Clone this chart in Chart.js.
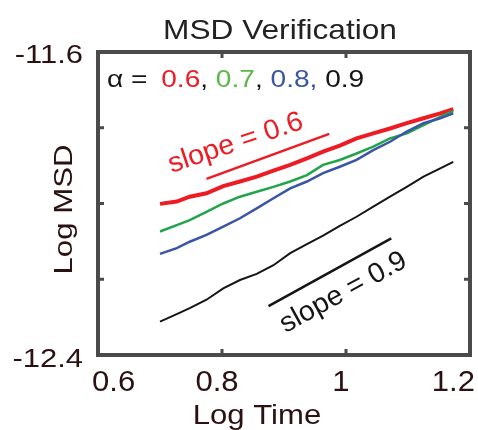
<!DOCTYPE html>
<html>
<head>
<meta charset="utf-8">
<script src="https://cdn.jsdelivr.net/npm/chart.js@4"></script>
<style>
  body { margin: 0; background: #fff; }
  canvas { display: block; }
</style>
</head>
<body>
<canvas id="msdChart" width="478" height="430"></canvas>
<script>
// values
const logTime = [0.70, 0.727, 0.748, 0.775, 0.802, 0.829, 0.856, 0.883, 0.910, 0.937, 0.963, 0.990, 1.017, 1.044, 1.071, 1.098, 1.125, 1.152, 1.173];
const msdAlpha06 = [-12.001, -11.995, -11.982, -11.973, -11.954, -11.942, -11.929, -11.913, -11.898, -11.881, -11.863, -11.847, -11.828, -11.815, -11.802, -11.788, -11.775, -11.762, -11.751];
const msdAlpha07 = [-12.074, -12.057, -12.044, -12.022, -12.000, -11.982, -11.969, -11.956, -11.942, -11.925, -11.898, -11.885, -11.868, -11.850, -11.828, -11.815, -11.793, -11.771, -11.756];
const msdAlpha08 = [-12.133, -12.118, -12.101, -12.083, -12.061, -12.039, -12.013, -11.986, -11.960, -11.942, -11.920, -11.903, -11.885, -11.859, -11.837, -11.810, -11.788, -11.775, -11.762];
const msdAlpha09 = [-12.312, -12.292, -12.276, -12.254, -12.224, -12.202, -12.186, -12.163, -12.131, -12.107, -12.085, -12.059, -12.035, -12.008, -11.982, -11.956, -11.929, -11.907, -11.890];

const slope06X = [0.775, 0.973];
const slope06Y = [-11.935, -11.816];
const slope09X = [0.875, 1.073];
const slope09Y = [-12.271, -12.092];

const xTicks = [0.6, 0.8, 1.0, 1.2];
const xTickLabels = ['0.6', '0.8', '1', '1.2'];
const yTicks = [-11.6, -11.8, -12.0, -12.2, -12.4];
const yTickLabels = ['-11.6', '', '', '', '-12.4'];

const RED = '#ed1c24', GREEN = '#22a44a', BLUE = '#3a55a6', BLACK = '#151515';
const LABEL = '#2b1111';
const FONT = '"Liberation Sans", Arial, sans-serif';

function pts(xs, ys) {
    return xs.map((x, i) => ({ x: x, y: ys[i] }));
}

// text with a horizontal stretch (the figure's lettering is wide)
function sText(ctx, str, x, y, o) {
    ctx.save();
    ctx.translate(x, y);
    if (o.rot) ctx.rotate(o.rot);
    ctx.scale(o.sx || 1, 1);
    ctx.font = o.font;
    ctx.fillStyle = o.color;
    ctx.textAlign = o.align || 'left';
    ctx.textBaseline = o.base || 'alphabetic';
    ctx.fillText(str, 0, 0);
    ctx.restore();
}

const frame = {
    id: 'frame',
    beforeDraw(chart) {
        const ctx = chart.ctx;
        ctx.save();
        ctx.fillStyle = '#fff';
        ctx.fillRect(0, 0, chart.width, chart.height);
        ctx.restore();
    },
    afterDraw(chart) {
        const ctx = chart.ctx;
        const a = chart.chartArea;
        const xs = chart.scales.x, ys = chart.scales.y;

        // box + inward ticks
        ctx.save();
        ctx.strokeStyle = '#4b4b4b';
        ctx.lineWidth = 4;
        ctx.strokeRect(a.left, a.top, a.right - a.left, a.bottom - a.top);
        ctx.lineWidth = 3;
        ctx.beginPath();
        xTicks.forEach(v => {
            const px = xs.getPixelForValue(v);
            ctx.moveTo(px, a.top); ctx.lineTo(px, a.top + 6);
            ctx.moveTo(px, a.bottom); ctx.lineTo(px, a.bottom - 6);
        });
        yTicks.forEach(v => {
            const py = ys.getPixelForValue(v);
            ctx.moveTo(a.left, py); ctx.lineTo(a.left + 6, py);
            ctx.moveTo(a.right, py); ctx.lineTo(a.right - 6, py);
        });
        ctx.stroke();
        ctx.restore();

        // title
        sText(ctx, 'MSD Verification', (a.left + a.right) / 2 - 4, 39,
            { font: '28px ' + FONT, color: '#222', sx: 1.13, align: 'center' });

        // y tick labels
        yTicks.forEach((v, i) => {
            if (!yTickLabels[i]) return;
            const py = ys.getPixelForValue(v);
            sText(ctx, yTickLabels[i], a.left - 15, py + (i === 0 ? 4 : 5),
                { font: '26px ' + FONT, color: LABEL, sx: 1.19, align: 'right', base: 'middle' });
        });

        // x tick labels
        xTicks.forEach((v, i) => {
            const px = xs.getPixelForValue(v);
            let align = 'center', dx = -5;
            if (i === 0) { align = 'left'; dx = -6; }
            if (i === xTicks.length - 1) { align = 'right'; dx = 5; }
            sText(ctx, xTickLabels[i], px + dx, a.bottom + 36,
                { font: '29px ' + FONT, color: LABEL, sx: 1.07, align: align });
        });

        // axis titles
        sText(ctx, 'Log Time', (a.left + a.right) / 2 - 27, a.bottom + 69,
            { font: '28px ' + FONT, color: LABEL, sx: 1.11, align: 'center' });
        sText(ctx, 'Log MSD', 72, (a.top + a.bottom) / 2 + 6,
            { font: '26px ' + FONT, color: LABEL, sx: 1.2, align: 'center', rot: -Math.PI / 2 });

        // alpha legend
        const segs = [['\u03b1 = ', BLACK], ['0.6', RED], [', ', BLACK], ['0.7', '#5cb848'],
                      [', ', BLACK], ['0.8, ', BLUE], ['0.9', BLACK]];
        const lf = '24px ' + FONT, lsx = 1.17;
        let lx = a.left + 9;
        ctx.save();
        ctx.font = lf;
        segs.forEach((s, i) => {
            sText(ctx, s[0], lx, a.top + 35, { font: lf, color: s[1], sx: lsx });
            lx += ctx.measureText(s[0]).width * lsx + (i === 0 ? 6 : 0);
        });
        ctx.restore();

        // slope annotations
        const r0x = xs.getPixelForValue(slope06X[0]), r0y = ys.getPixelForValue(slope06Y[0]);
        sText(ctx, 'slope = 0.6', r0x - 35, r0y - 6,
            { font: '28px ' + FONT, color: RED, sx: 1.02, rot: -18.5 * Math.PI / 180 });
        const b0x = xs.getPixelForValue(slope09X[0]), b0y = ys.getPixelForValue(slope09Y[0]);
        sText(ctx, 'slope = 0.9', b0x + 17, b0y + 27,
            { font: '28px ' + FONT, color: BLACK, sx: 1.02, rot: -28.7 * Math.PI / 180 });
    }
};

const lineDefaults = { showLine: true, pointRadius: 0, fill: false, tension: 0 };

new Chart(document.getElementById('msdChart').getContext('2d'), {
    type: 'scatter',
    data: {
        datasets: [
            Object.assign({ data: pts(slope06X, slope06Y), borderColor: RED, borderWidth: 2.5 }, lineDefaults),
            Object.assign({ data: pts(slope09X, slope09Y), borderColor: BLACK, borderWidth: 2.5 }, lineDefaults),
            Object.assign({ data: pts(logTime, msdAlpha09), borderColor: BLACK, borderWidth: 2 }, lineDefaults),
            Object.assign({ data: pts(logTime, msdAlpha08), borderColor: BLUE, borderWidth: 2.5 }, lineDefaults),
            Object.assign({ data: pts(logTime, msdAlpha07), borderColor: GREEN, borderWidth: 2.5 }, lineDefaults),
            Object.assign({ data: pts(logTime, msdAlpha06), borderColor: RED, borderWidth: 4 }, lineDefaults)
        ]
    },
    options: {
        responsive: false,
        animation: false,
        devicePixelRatio: 1,
        layout: { padding: { left: 98, right: 8, top: 52, bottom: 75 } },
        scales: {
            x: { type: 'linear', min: 0.6, max: 1.2, display: false },
            y: { type: 'linear', min: -12.4, max: -11.6, display: false }
        },
        plugins: {
            legend: { display: false },
            tooltip: { enabled: false },
            title: { display: false }
        }
    },
    plugins: [frame]
});
</script>
</body>
</html>
